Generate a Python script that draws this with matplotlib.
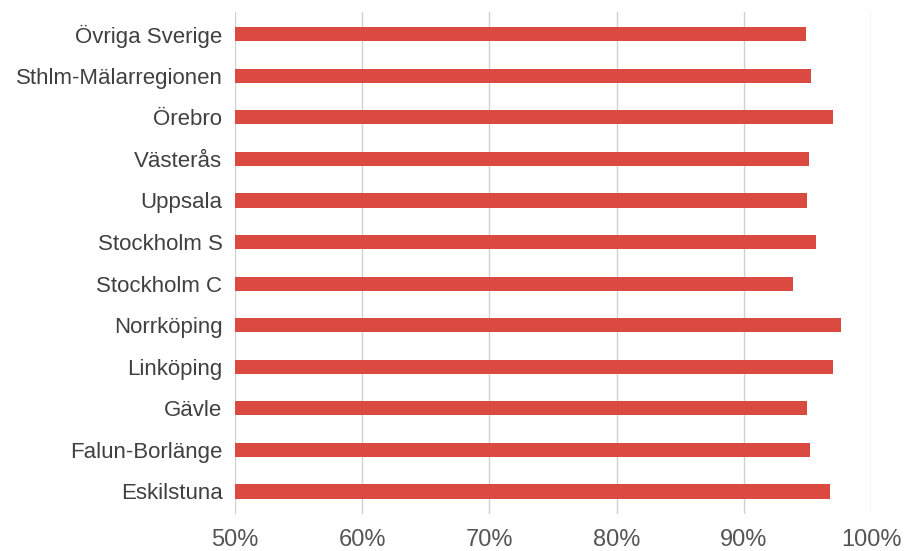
import matplotlib
matplotlib.use("Agg")
import matplotlib.pyplot as plt
import numpy as np

# regions, top to bottom as shown in the chart
regions = ['Övriga Sverige', 'Sthlm-Mälarregionen', 'Örebro', 'Västerås', 'Uppsala',
           'Stockholm S', 'Stockholm C', 'Norrköping', 'Linköping', 'Gävle',
           'Falun-Borlänge', 'Eskilstuna']
values = [94.9, 95.3, 97.0, 95.1, 95.0, 95.7, 93.9, 97.6, 97.0, 95.0, 95.2, 96.8]
xticks = [50, 60, 70, 80, 90, 100]

plt.rcParams['font.family'] = ['Liberation Sans', 'DejaVu Sans']

fig = plt.figure(figsize=(9.14, 5.51), dpi=100)
ax = fig.add_axes([0.257, 0.068, 0.696, 0.910])

ind = np.arange(len(regions))
ax.barh(ind, values, 0.34, color='#db4a40', zorder=3)

ax.set_xlim(50, 100)
ax.set_ylim(len(regions) - 0.47, -0.53)
ax.set_yticks(ind)
ax.set_yticklabels(regions, fontsize=16, color='#404040')
ax.set_xticks(xticks)
ax.set_xticklabels(['%d%%' % t for t in xticks], fontsize=17, color='#555555')

ax.grid(axis='x', color='#d0d0d0', linewidth=1, zorder=0)
for s in ax.spines.values():
    s.set_visible(False)
ax.tick_params(axis='both', length=0)
ax.tick_params(axis='y', pad=9)
ax.tick_params(axis='x', pad=11)

fig.savefig('out.png', dpi=100)
